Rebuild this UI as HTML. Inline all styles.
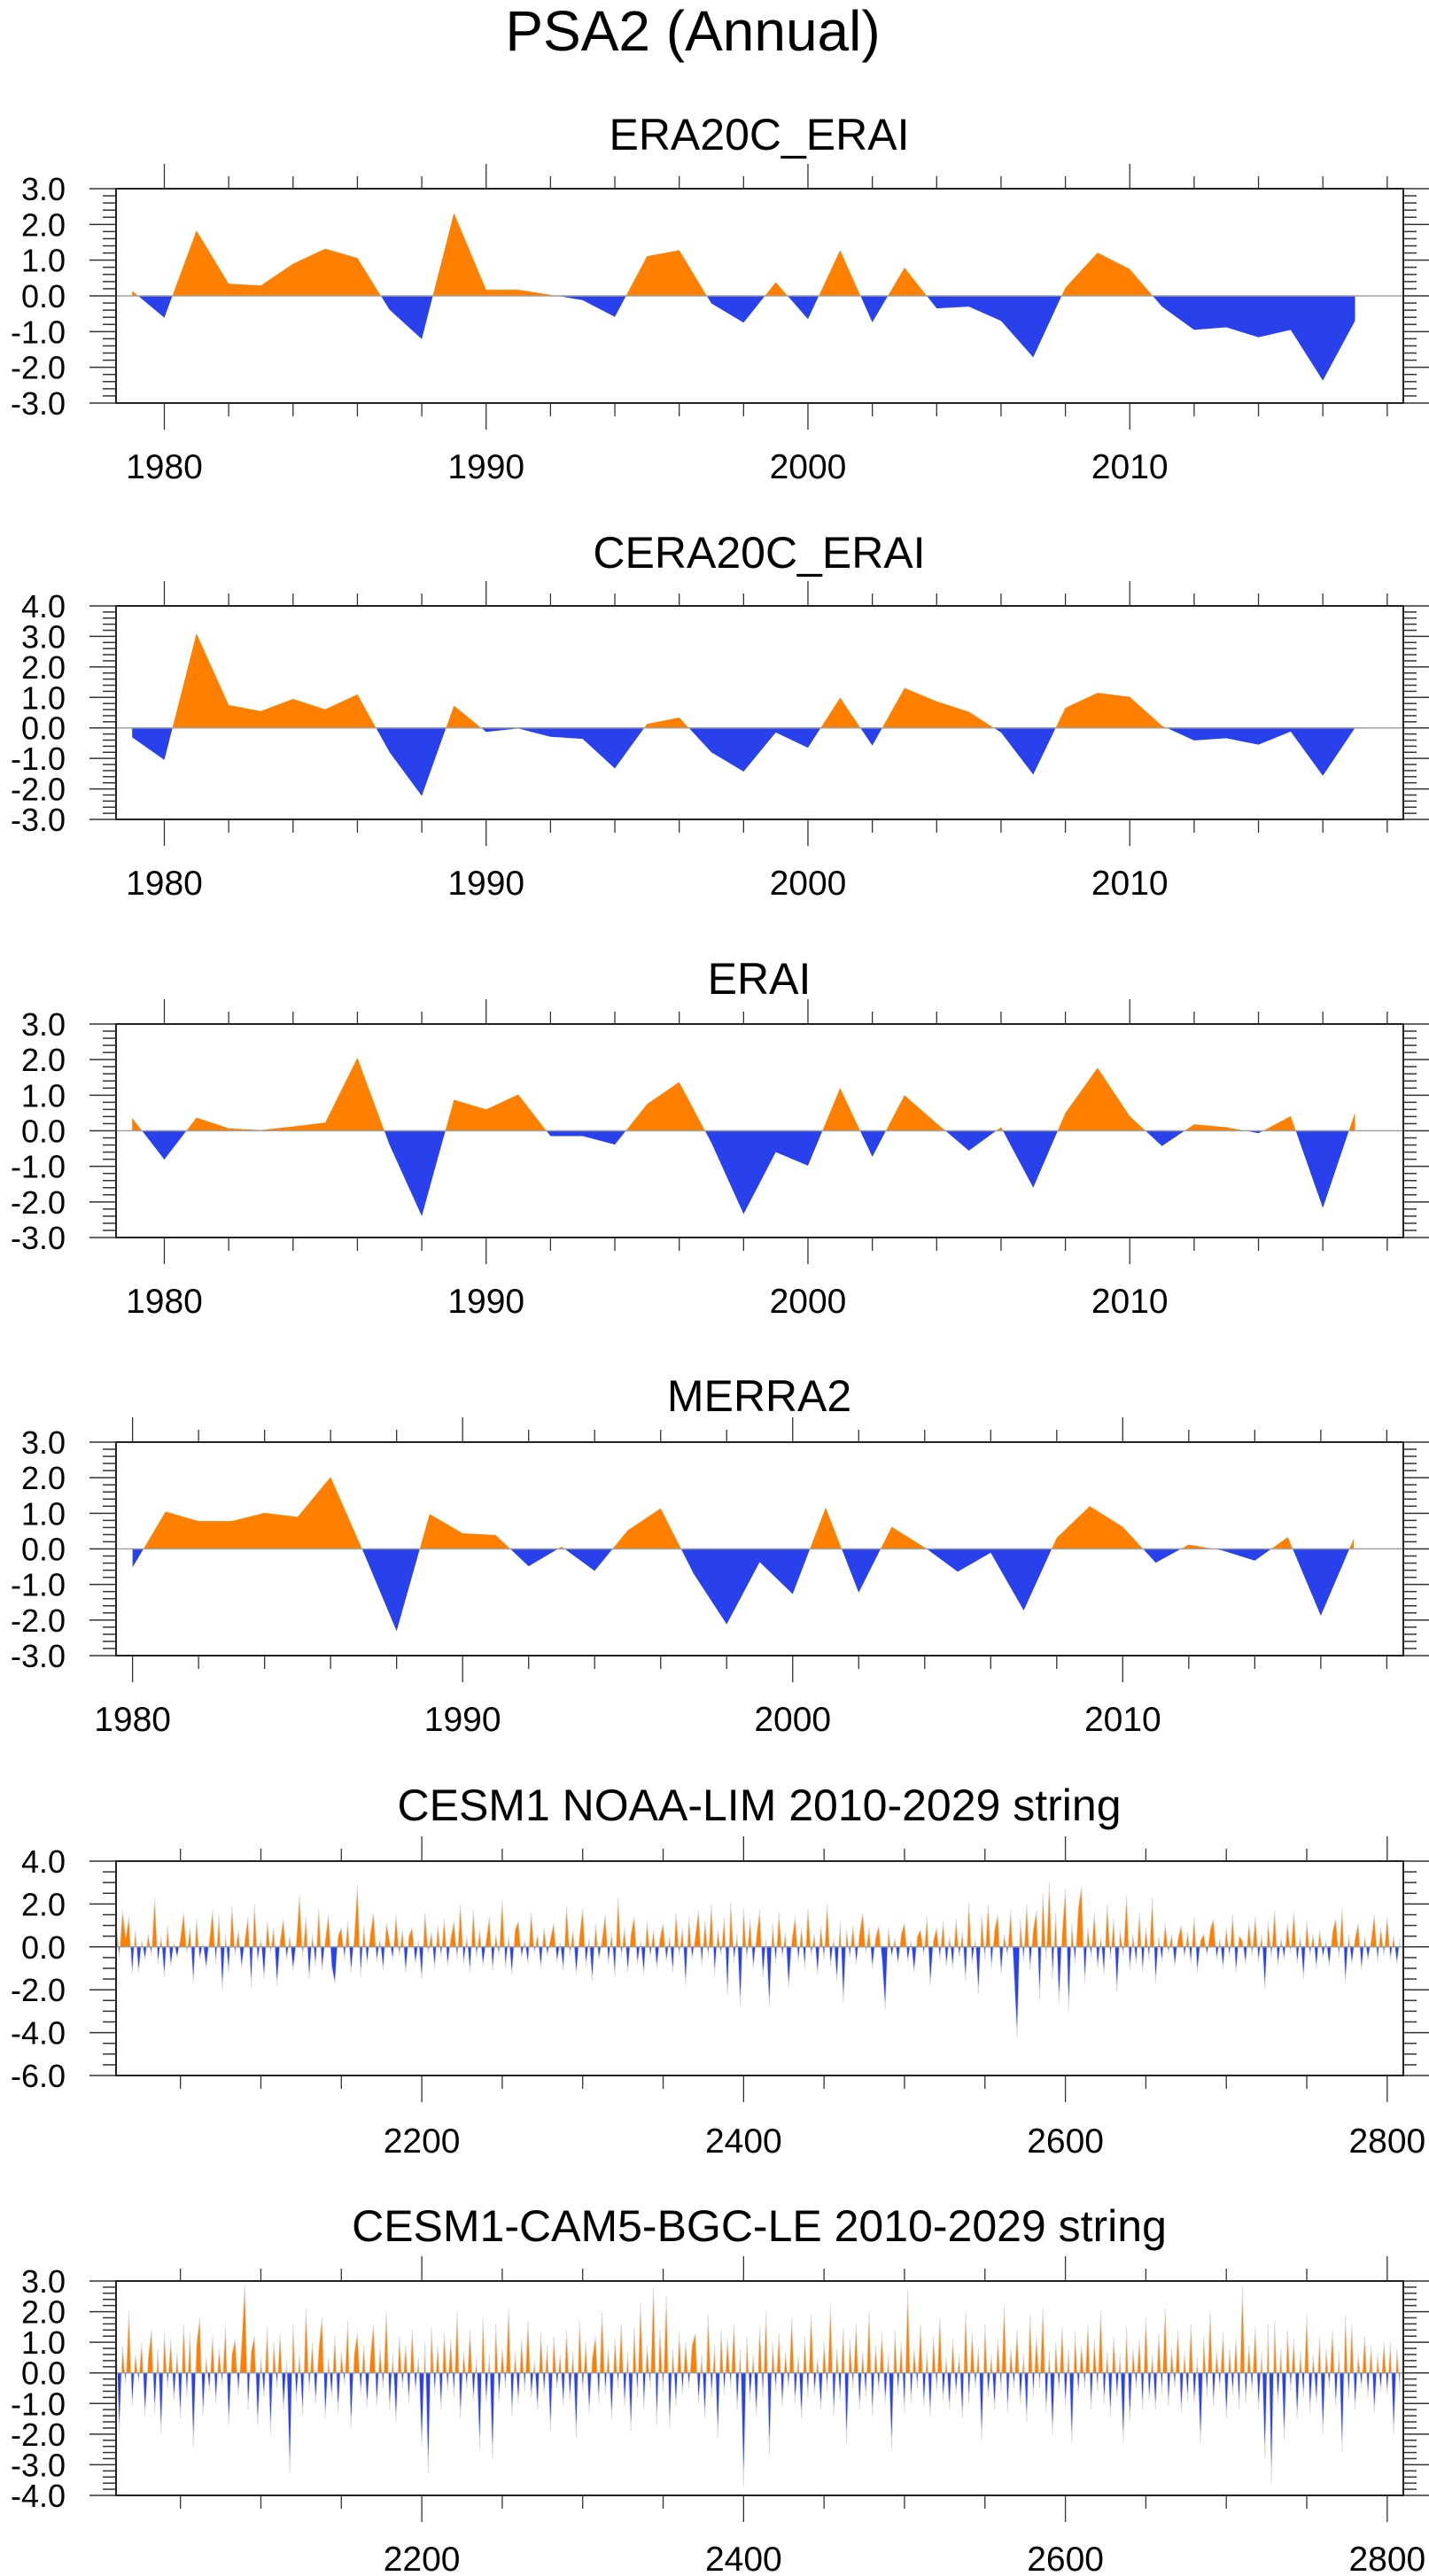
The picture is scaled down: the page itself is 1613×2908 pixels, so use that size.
<!DOCTYPE html>
<html><head><meta charset="utf-8"><title>PSA2 (Annual)</title>
<style>
html,body{margin:0;padding:0;background:#fff;}
svg{display:block;font-family:"Liberation Sans",sans-serif;}
</style></head>
<body>
<svg id="chart" width="1613" height="2908" viewBox="0 0 1613 2908" xmlns="http://www.w3.org/2000/svg">
<text x="782" y="57" font-size="64" text-anchor="middle">PSA2 (Annual)</text>
</svg>
<script>
// ---------- data ----------
const yearsA = [1979,1980,1981,1982,1983,1984,1985,1986,1987,1988,1989,1990,1991,1992,1993,1994,1995,1996,1997,1998,1999,2000,2001,2002,2003,2004,2005,2006,2007,2008,2009,2010,2011,2012,2013,2014,2015,2016,2017];
const yearsMerra = [1980,1981,1982,1983,1984,1985,1986,1987,1988,1989,1990,1991,1992,1993,1994,1995,1996,1997,1998,1999,2000,2001,2002,2003,2004,2005,2006,2007,2008,2009,2010,2011,2012,2013,2014,2015,2016,2017];
const era20cErai = [0.14,-0.61,1.83,0.34,0.29,0.9,1.32,1.06,-0.39,-1.21,2.32,0.17,0.17,0.03,-0.12,-0.59,1.11,1.28,-0.21,-0.75,0.38,-0.65,1.28,-0.74,0.79,-0.35,-0.3,-0.7,-1.72,0.23,1.21,0.75,-0.3,-0.95,-0.88,-1.16,-0.95,-2.37,-0.7];
const cera20cErai = [-0.31,-1.05,3.1,0.75,0.55,0.95,0.61,1.1,-0.8,-2.23,0.73,-0.13,-0.02,-0.29,-0.36,-1.33,0.13,0.34,-0.8,-1.43,-0.15,-0.65,0.99,-0.58,1.31,0.87,0.53,-0.15,-1.53,0.66,1.15,1.02,0.07,-0.41,-0.34,-0.55,-0.12,-1.57,0.0];
const erai = [0.36,-0.81,0.37,0.07,0.02,0.12,0.23,2.05,-0.4,-2.4,0.87,0.6,1.02,-0.15,-0.15,-0.39,0.75,1.37,-0.34,-2.34,-0.6,-0.98,1.2,-0.73,1.0,0.21,-0.56,0.1,-1.6,0.5,1.77,0.41,-0.43,0.18,0.1,-0.07,0.41,-2.17,0.51];
const merra2 = [-0.52,1.05,0.78,0.78,1.01,0.9,2.02,-0.1,-2.31,0.98,0.44,0.39,-0.49,0.06,-0.62,0.52,1.14,-0.7,-2.12,-0.37,-1.27,1.16,-1.23,0.62,0.04,-0.64,-0.11,-1.73,0.31,1.2,0.62,-0.39,0.12,-0.04,-0.33,0.33,-1.88,0.29];
const stringStart = 2010;
const stringStep = 2;
const noaaLim = [
1.2,-0.5,1.7,0.4,1.4,-1.3,0.8,-1.2,0.3,-0.6,0.6,-0.4,2.3,-0.8,0.5,-1.4,1.0,-0.9,0.2,-0.5,
0.4,1.6,-0.3,0.9,-1.7,1.3,-0.6,0.2,-1.0,0.3,1.7,-0.8,1.5,-2.0,0.6,-1.2,1.9,-0.4,0.8,-1.0,
0.3,1.4,-1.9,2.0,-0.7,0.4,-1.5,1.2,-0.3,0.9,-1.8,0.3,1.3,-0.6,0.5,-1.1,0.2,2.4,-0.5,1.4,
-1.5,0.6,-0.9,1.8,-1.1,0.3,1.5,-0.9,-1.7,0.5,0.9,-0.6,1.2,-1.2,0.4,2.9,-1.4,1.0,-0.8,0.6,
1.6,-0.7,0.4,-1.1,1.1,0.3,-0.6,1.5,-0.4,0.8,-1.2,0.5,0.9,-0.8,0.3,-1.5,1.6,-0.3,0.7,-1.0,
1.0,-0.5,1.3,-0.9,0.4,1.2,-0.6,2.0,-0.8,0.5,-1.2,1.7,-0.5,0.8,-0.9,0.3,1.4,-1.1,0.6,-0.4,
2.2,-1.0,0.5,-1.3,0.8,1.2,-0.5,0.3,-0.8,1.6,-0.3,0.6,-1.0,0.9,-0.4,0.4,1.1,-0.7,0.2,-1.1,
1.9,-0.4,0.8,-1.3,0.5,1.8,-0.9,0.4,-1.6,1.1,-0.6,0.3,1.5,-0.8,0.7,-1.4,2.3,-0.5,0.9,-1.2,
0.6,1.4,-0.8,0.3,-1.3,1.2,-0.5,0.8,-1.0,0.4,1.1,-0.7,0.5,-1.2,1.6,-0.4,0.9,-1.8,1.4,-0.6,
0.5,1.7,-0.9,1.2,-0.5,2.0,-1.3,0.8,-0.4,1.4,-2.3,2.1,-0.7,0.6,-2.8,1.8,-0.6,1.3,-1.0,0.5,
1.7,-1.4,0.4,-2.8,1.1,-0.8,1.6,-0.5,0.7,-1.9,0.3,1.4,-0.7,0.9,-1.0,1.8,-0.4,0.6,-1.3,1.0,
-0.6,2.0,-0.9,0.4,-1.6,1.2,-2.6,0.8,-0.5,1.0,-0.8,0.6,1.6,-0.3,0.9,-1.0,0.4,1.0,-0.6,-2.9,
0.9,-0.5,0.4,-0.8,0.6,1.1,-0.7,0.3,-1.2,0.5,0.8,-0.4,1.4,-1.8,0.3,0.9,-0.6,1.2,-0.9,0.5,
-1.0,1.3,-0.5,0.7,-1.6,2.1,-0.8,0.4,-2.2,1.5,-0.6,2.0,-1.0,0.8,1.5,-1.3,0.6,-0.4,1.7,-1.2,
-4.2,1.3,-0.7,2.0,-1.1,0.8,1.7,-2.5,2.5,-0.6,3.0,-1.5,1.6,-2.6,0.7,2.7,-3.0,1.1,-0.8,1.8,
2.8,-1.7,0.9,-0.5,1.6,-1.0,0.5,-1.3,2.0,-0.6,1.3,-2.1,0.8,-0.4,2.4,-1.1,0.6,-0.8,1.6,-1.2,
0.9,-0.6,2.3,-1.7,0.5,-0.7,1.1,-0.3,0.6,-0.9,0.4,1.0,-0.5,0.7,-0.8,1.4,-1.2,0.3,0.6,-0.4,
0.8,1.3,-0.6,0.4,-1.0,0.9,-0.5,1.5,-1.2,0.5,0.3,-0.8,1.1,-0.4,1.4,-0.7,0.6,-2.0,1.2,-0.5,
1.7,-0.9,0.4,-0.6,1.1,-0.3,1.6,-0.8,0.5,-1.5,1.2,-0.4,0.6,-1.0,0.8,-0.5,0.3,-0.9,0.7,1.3,
-0.5,1.8,-1.7,0.6,-0.8,0.4,1.1,-1.1,0.5,-0.6,0.3,1.5,-0.7,0.9,-0.4,1.4,-0.6,0.5,-0.8,0.4];
const bgcLe = [
1.3,-2.0,0.9,-0.4,2.0,-1.1,0.6,-0.3,1.0,-1.4,0.5,1.4,-1.3,0.8,-2.0,1.3,-0.5,1.1,-0.9,0.7,
-1.5,1.6,-0.8,1.3,-2.4,0.9,1.8,-1.4,0.5,-0.6,1.2,-1.0,0.8,-0.4,1.5,-1.7,0.6,1.1,-0.7,0.9,
2.9,-1.2,0.7,1.2,-1.7,0.5,-0.8,1.5,-2.0,1.0,-0.5,1.3,-1.2,0.4,-3.3,1.6,-0.9,0.6,-1.4,2.1,
-0.6,1.0,-1.0,0.8,1.8,-1.5,0.5,-0.8,1.2,-1.3,0.7,-0.4,1.7,-1.8,0.6,1.3,-0.7,0.9,-1.1,0.5,
1.6,-1.1,0.8,-0.5,2.0,-1.2,0.6,-1.6,1.2,-0.5,0.9,-1.0,1.4,-0.6,0.5,-2.4,1.0,-3.3,1.5,-0.7,
0.9,-1.2,1.3,-0.6,1.1,-0.8,2.0,-1.5,0.7,-0.5,1.4,-0.9,0.5,-2.5,1.8,-1.0,0.6,-2.8,1.6,-0.9,
0.8,-0.5,2.1,-1.4,0.7,-1.0,1.1,-0.6,1.7,-0.8,0.4,-1.2,1.3,-0.7,0.9,-1.9,1.2,-0.5,0.6,-1.1,
1.4,-0.9,0.7,-2.1,1.7,-0.6,1.0,-1.3,0.5,1.2,-1.0,2.0,-0.7,0.8,-1.5,1.1,-0.5,1.6,-1.1,0.7,
-1.9,1.5,-0.8,2.3,-1.2,0.9,-0.5,2.8,-1.7,1.4,-0.6,2.5,-1.8,0.8,-1.1,1.3,-0.7,1.0,-0.5,0.9,
1.3,-1.0,0.6,-1.5,1.9,-0.8,0.9,-2.1,1.4,-0.7,1.1,-0.5,1.6,-1.2,0.8,-3.7,1.2,-0.9,0.6,-1.4,
1.5,-0.8,2.0,-2.7,1.0,-0.6,1.3,-1.1,0.7,-0.5,1.8,-1.0,0.6,-1.5,1.2,-0.8,1.9,-0.7,0.5,-1.2,
1.0,-0.6,2.2,-1.4,0.8,-0.9,1.5,-2.3,1.1,-0.5,1.6,-1.2,0.7,-0.8,2.0,-1.4,0.9,-0.6,1.3,-1.0,
0.6,-2.5,1.4,-0.7,1.0,-1.3,2.7,-1.0,0.8,-0.5,1.6,-1.1,0.7,-1.4,1.2,-0.6,1.8,-0.9,0.5,-1.2,
1.1,-0.7,0.6,-1.5,2.0,-1.0,1.3,-0.5,0.8,-2.2,1.6,-0.8,0.6,-1.2,1.1,-0.6,2.2,-1.3,0.8,-0.5,
1.4,-1.0,0.6,-1.6,1.9,-0.8,1.2,-0.5,2.1,-1.3,0.7,-2.0,1.0,-0.6,1.5,-1.1,0.8,-2.3,1.3,-0.7,
0.9,-0.5,1.6,-1.2,1.1,-0.6,2.0,-1.0,0.7,-1.4,1.2,-0.8,0.6,-2.3,1.5,-1.6,0.8,-0.5,1.1,-1.2,
1.8,-0.9,0.6,-1.2,1.3,-0.7,2.1,-1.1,0.8,-0.5,1.4,-1.3,0.7,-0.9,1.6,-1.0,0.5,-2.3,1.2,-0.8,
2.0,-1.1,0.7,-0.5,1.3,-1.5,0.8,-0.7,1.1,-1.2,2.8,-1.0,0.9,-0.6,1.5,-1.2,0.7,-2.8,1.6,-3.6,
1.7,-1.0,0.8,-2.2,1.4,-0.6,1.1,-1.5,0.7,-0.8,1.9,-1.3,0.6,-1.0,1.2,-2.0,0.8,-0.5,1.4,-1.1,
0.7,-2.6,1.9,-0.9,1.6,-1.2,0.6,-0.5,1.2,-0.8,0.9,-1.3,0.6,-0.6,1.0,-0.7,1.0,-2.0,0.8,-0.6];
const stringYears = noaaLim.map((_, i) => stringStart + stringStep * i);
const stringYearsB = bgcLe.map((_, i) => stringStart + stringStep * i);
const titles = ["ERA20C_ERAI","CERA20C_ERAI","ERAI","MERRA2","CESM1 NOAA-LIM 2010-2029 string","CESM1-CAM5-BGC-LE 2010-2029 string"];

// ---------- layout ----------
const NS = "http://www.w3.org/2000/svg";
const svg = document.getElementById("chart");
const X0 = 131, X1 = 1584;
const panels = [
 {key:"era20c-erai", xs:yearsA, vs:era20cErai, top:213, bot:455, ymax:3, ymin:-3, yMaj:1, yMin:0.2, xmin:1978.5, xmax:2018.5, xMajStart:1980, xMaj:10, xMinStart:1980, xMin:2, titleY:169, labY:540, outline:false},
 {key:"cera20c-erai", xs:yearsA, vs:cera20cErai, top:684, bot:925, ymax:4, ymin:-3, yMaj:1, yMin:0.2, xmin:1978.5, xmax:2018.5, xMajStart:1980, xMaj:10, xMinStart:1980, xMin:2, titleY:641, labY:1010, outline:false},
 {key:"erai", xs:yearsA, vs:erai, top:1156, bot:1397, ymax:3, ymin:-3, yMaj:1, yMin:0.2, xmin:1978.5, xmax:2018.5, xMajStart:1980, xMaj:10, xMinStart:1980, xMin:2, titleY:1122, labY:1482, outline:false},
 {key:"merra2", xs:yearsMerra, vs:merra2, top:1628, bot:1869, ymax:3, ymin:-3, yMaj:1, yMin:0.2, xmin:1979.5, xmax:2018.5, xMajStart:1980, xMaj:10, xMinStart:1980, xMin:2, titleY:1593, labY:1954, outline:false},
 {key:"noaa-lim", xs:stringYears, vs:noaaLim, top:2101, bot:2343, ymax:4, ymin:-6, yMaj:2, yMin:0.5, xmin:2010, xmax:2810, xMajStart:2200, xMaj:200, xMinStart:2050, xMin:50, titleY:2055, labY:2430, outline:true},
 {key:"bgc-le", xs:stringYearsB, vs:bgcLe, top:2575, bot:2817, ymax:3, ymin:-4, yMaj:1, yMin:0.2, xmin:2010, xmax:2810, xMajStart:2200, xMaj:200, xMinStart:2050, xMin:50, titleY:2530, labY:2902, outline:true}
];

function mk(tag, attrs, parent){
  const e = document.createElementNS(NS, tag);
  for (const k in attrs) e.setAttribute(k, attrs[k]);
  (parent || svg).appendChild(e);
  return e;
}

panels.forEach((p, pi) => {
  const g = mk("g", {});
  
  
  const xScale = t => X0 + (t - p.xmin) / (p.xmax - p.xmin) * (X1 - X0);
  const yScale = v => p.top + (p.ymax - v) / (p.ymax - p.ymin) * (p.bot - p.top);
  const y0 = yScale(0);

  const title = mk("text", {x: 857, y: p.titleY, "font-size": 50, "text-anchor": "middle"}, g);
  title.textContent = titles[pi];
  
  

  // clip paths
  const defs = mk("defs", {}, g);
  const cpA = mk("clipPath", {id: "above" + pi}, defs);
  mk("rect", {x: X0, y: p.top, width: X1 - X0, height: y0 - p.top}, cpA);
  const cpB = mk("clipPath", {id: "below" + pi}, defs);
  mk("rect", {x: X0, y: y0, width: X1 - X0, height: p.bot - y0}, cpB);

  let d = "M" + xScale(p.xs[0]).toFixed(2) + "," + y0.toFixed(2);
  for (let i = 0; i < p.vs.length; i++) d += " L" + xScale(p.xs[i]).toFixed(2) + "," + yScale(p.vs[i]).toFixed(2);
  d += " L" + xScale(p.xs[p.xs.length - 1]).toFixed(2) + "," + y0.toFixed(2) + " Z";

  const pos = mk("path", {d: d, fill: "#ff8000", "clip-path": "url(#above" + pi + ")"}, g);
  
  
  const neg = mk("path", {d: d, fill: "#2841ec", "clip-path": "url(#below" + pi + ")"}, g);
  
  
  if (p.outline) {
    const ol = mk("path", {d: d, fill: "none", stroke: "#d8d8d8", "stroke-width": 0.8}, g);
    
    
  }

  const zl = mk("line", {x1: X0, x2: X1, y1: y0, y2: y0, stroke: "#a0a0a0", "stroke-width": 1.5}, g);
  
  

  const frame = mk("rect", {x: X0, y: p.top, width: X1 - X0, height: p.bot - p.top, fill: "none", stroke: "#222", "stroke-width": 2}, g);
  
  

  // y ticks
  const nMin = Math.round((p.ymax - p.ymin) / p.yMin);
  for (let k = 0; k <= nMin; k++) {
    const v = p.ymax - k * p.yMin;
    const y = yScale(v);
    const isMaj = Math.abs(v / p.yMaj - Math.round(v / p.yMaj)) < 1e-6;
    const len = isMaj ? 30 : 15;
    mk("line", {x1: X0 - len, x2: X0, y1: y, y2: y, stroke: "#333", "stroke-width": 1.5}, g);
    mk("line", {x1: X1, x2: X1 + len, y1: y, y2: y, stroke: "#333", "stroke-width": 1.5}, g);
    if (isMaj) {
      const t = mk("text", {x: 74, y: y + 13, "font-size": 36, "text-anchor": "end"}, g);
      t.textContent = (Math.abs(v) < 1e-9 ? 0 : v).toFixed(1);
      
      
    }
  }
  // x ticks
  for (let t = p.xMinStart; t <= p.xmax; t += p.xMin) {
    if (t < p.xmin) continue;
    const x = xScale(t);
    const isMaj = ((t - p.xMajStart) % p.xMaj === 0) && t >= p.xMajStart;
    mk("line", {x1: x, x2: x, y1: p.top - (isMaj ? 28 : 14), y2: p.top, stroke: "#333", "stroke-width": 1.3}, g);
    mk("line", {x1: x, x2: x, y1: p.bot, y2: p.bot + (isMaj ? 30 : 15), stroke: "#333", "stroke-width": 1.3}, g);
    if (isMaj) {
      const lb = mk("text", {x: x, y: p.labY, "font-size": 39, "text-anchor": "middle"}, g);
      lb.textContent = String(t);
      
      
    }
  }
});
</script>
</body></html>
